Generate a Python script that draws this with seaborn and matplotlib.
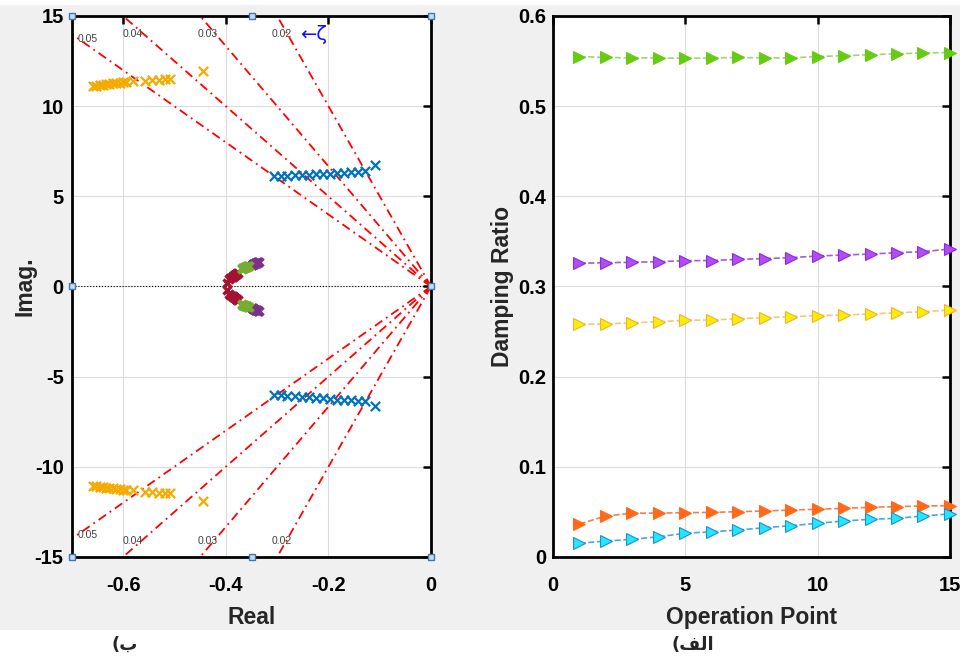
import numpy as np
import pandas as pd
import matplotlib
matplotlib.use("Agg")
import matplotlib.pyplot as plt
from matplotlib.patches import Rectangle
import seaborn as sns

sns.set_theme(style="white")
plt.rcParams["font.family"] = ["Liberation Sans", "DejaVu Sans"]

# ---- pole map data (left panel) ----
blue_re = [-0.307, -0.293, -0.280, -0.266, -0.252, -0.238, -0.225, -0.211, -0.197, -0.184, -0.170, -0.156, -0.142, -0.129, -0.109]
blue_im_up = [6.10, 6.12, 6.14, 6.16, 6.18, 6.20, 6.22, 6.24, 6.26, 6.28, 6.30, 6.33, 6.36, 6.39, 6.72]
blue_im_lo = [-6.00, -6.03, -6.06, -6.09, -6.12, -6.15, -6.18, -6.21, -6.24, -6.27, -6.30, -6.32, -6.34, -6.36, -6.65]

orange_re = [-0.659, -0.653, -0.646, -0.640, -0.633, -0.627, -0.620, -0.614, -0.607, -0.601, -0.594, -0.581,
             -0.557, -0.544, -0.531, -0.518, -0.509, -0.445]
orange_im_up = [11.10, 11.14, 11.17, 11.20, 11.22, 11.24, 11.26, 11.28, 11.30, 11.32, 11.34, 11.37,
                11.40, 11.43, 11.46, 11.49, 11.52, 11.93]
orange_im_lo = [-11.06, -11.09, -11.12, -11.14, -11.16, -11.18, -11.20, -11.22, -11.24, -11.26, -11.28, -11.30,
                -11.38, -11.41, -11.44, -11.46, -11.48, -11.90]

darkred_re = [-0.397, -0.394, -0.391, -0.389, -0.387, -0.386, -0.385, -0.384, -0.383, -0.382, -0.381, -0.380, -0.379, -0.378, -0.377]
darkred_im = [0.20, 0.40, 0.48, 0.52, 0.55, 0.57, 0.59, 0.61, 0.63, 0.65, 0.67, 0.69, 0.71, 0.73, 0.75]

green_re = [-0.369, -0.368, -0.367, -0.366, -0.365, -0.364, -0.363, -0.362, -0.361, -0.360, -0.359, -0.358, -0.357, -0.356, -0.355]
green_im = [0.98, 1.00, 1.02, 1.03, 1.04, 1.05, 1.06, 1.07, 1.08, 1.09, 1.10, 1.11, 1.12, 1.13, 1.14]

purple_re = [-0.350, -0.349, -0.348, -0.347, -0.346, -0.345, -0.344, -0.343, -0.342, -0.341, -0.340, -0.339, -0.338, -0.337, -0.336]
purple_im = [1.18, 1.20, 1.22, 1.24, 1.26, 1.27, 1.28, 1.29, 1.30, 1.31, 1.32, 1.33, 1.34, 1.35, 1.36]

zetas = [0.05, 0.04, 0.03, 0.02]
zeta_labels = ["0.05", "0.04", "0.03", "0.02"]

# ---- damping ratio data (right panel) ----
op_point = list(range(1, 16))
zeta_green = [0.555, 0.554, 0.5535, 0.5535, 0.553, 0.5535, 0.554, 0.5535, 0.5535, 0.555, 0.556, 0.557, 0.558, 0.559, 0.5595]
zeta_purple = [0.3257, 0.3264, 0.3268, 0.3275, 0.3286, 0.3288, 0.3301, 0.3309, 0.332, 0.3338, 0.3349, 0.336, 0.3375, 0.3386, 0.3416]
zeta_yellow = [0.258, 0.2584, 0.2598, 0.2609, 0.2625, 0.2628, 0.2643, 0.2654, 0.2665, 0.2676, 0.2684, 0.2695, 0.2709, 0.272, 0.2739]
zeta_orange = [0.0366, 0.0455, 0.0485, 0.0487, 0.0491, 0.0495, 0.0502, 0.051, 0.0521, 0.0529, 0.054, 0.0551, 0.0558, 0.0566, 0.0569]
zeta_cyan = [0.0152, 0.0177, 0.0196, 0.0225, 0.0263, 0.028, 0.0299, 0.0325, 0.0347, 0.0374, 0.0399, 0.0418, 0.0429, 0.0455, 0.0477]

fig = plt.figure(figsize=(9.6, 6.66), dpi=100, facecolor="white")
fig.patches.append(Rectangle((0, 0.054), 1, 0.9385, transform=fig.transFigure,
                             facecolor="#f0f0f0", edgecolor="none", zorder=-10))

ax1 = fig.add_axes([0.075, 0.1637, 0.374, 0.8123])
ax2 = fig.add_axes([0.576, 0.1637, 0.4135, 0.8123])


def style_axes(ax):
    ax.set_facecolor("white")
    ax.grid(True, color="#dcdcdc", linewidth=0.8)
    ax.set_axisbelow(True)
    for s in ax.spines.values():
        s.set_visible(True)
        s.set_color("black")
        s.set_linewidth(2)
    ax.tick_params(direction="in", length=6, width=1.8, top=True, right=True,
                   labelsize=14.5, colors="black")
    for lab in ax.get_xticklabels() + ax.get_yticklabels():
        lab.set_fontweight("bold")


# ---- left panel ----
ax1.plot([-0.7, 0], [0, 0], color="black", linestyle=":", linewidth=0.8, zorder=1)
for z in zetas:
    wn = 25
    re_end = -wn * z
    im_end = wn * np.sqrt(1 - z ** 2)
    for sgn in (1, -1):
        ax1.plot([0, re_end], [0, sgn * im_end], color="red", linestyle=(0, (5, 2.5, 1, 2.5)),
                 linewidth=1.3, zorder=2)

marker_kw = dict(marker="x", linewidth=1.6, legend=False, ax=ax1, zorder=4)
sns.scatterplot(x=blue_re + blue_re, y=blue_im_up + blue_im_lo, color="#0072bd", s=45, **marker_kw)
sns.scatterplot(x=orange_re + orange_re, y=orange_im_up + orange_im_lo, color="#f5aa00", s=45, **marker_kw)
cluster_kw = dict(marker="x", linewidth=2.4, s=34, legend=False, ax=ax1)
sns.scatterplot(x=darkred_re + darkred_re, y=darkred_im + [-v for v in darkred_im], color="#a2142f",
                zorder=4, **cluster_kw)
sns.scatterplot(x=green_re + green_re, y=green_im + [-v for v in green_im], color="#77ac30",
                zorder=5, **cluster_kw)
sns.scatterplot(x=purple_re + purple_re, y=purple_im + [-v for v in purple_im], color="#7e2f8e",
                zorder=4, **cluster_kw)

# damping labels
top_pos = [(-0.690, 13.7), (-0.602, 14.0), (-0.456, 14.0), (-0.310, 14.0)]
bot_pos = [(-0.690, -13.8), (-0.602, -14.1), (-0.456, -14.1), (-0.310, -14.1)]
for lab, (xt, yt), (xb, yb) in zip(zeta_labels, top_pos, bot_pos):
    ax1.text(xt, yt, lab, fontsize=7.5, color="#404040", ha="left", va="center", zorder=6)
    ax1.text(xb, yb, lab, fontsize=7.5, color="#404040", ha="left", va="center", zorder=6)
ax1.text(-0.255, 14.0, "←ζ", fontsize=14, color="#1010ff", ha="left", va="center",
         family=["DejaVu Sans"], zorder=6)

# selection handles
hx = [-0.7, -0.35, 0, -0.7, 0, -0.7, -0.35, 0]
hy = [15, 15, 15, 0, 0, -15, -15, -15]
ax1.plot(hx, hy, linestyle="none", marker="s", markersize=5, markerfacecolor="#c8dcf0",
         markeredgecolor="#3c78b4", markeredgewidth=1, clip_on=False, zorder=10)

ax1.set_xlim(-0.7, 0)
ax1.set_ylim(-15, 15)
ax1.set_xticks([-0.6, -0.4, -0.2, 0])
ax1.set_xticklabels(["-0.6", "-0.4", "-0.2", "0"])
ax1.set_yticks([-15, -10, -5, 0, 5, 10, 15])
ax1.set_yticklabels(["-15", "-10", "-5", "0", "5", "10", "15"])
style_axes(ax1)
ax1.tick_params(axis="x", pad=14)
ax1.tick_params(axis="y", pad=6)
ax1.set_xlabel("Real", fontsize=16.5, fontweight="bold")
ax1.set_ylabel("Imag.", fontsize=16.5, fontweight="bold")
ax1.xaxis.label.set_va("center")
ax1.yaxis.label.set_va("center")
ax1.xaxis.set_label_coords(0.5, -0.111)
ax1.yaxis.set_label_coords(-0.131, 0.5)

# ---- right panel ----
series = [
    (zeta_green, "#66cc11", "#66cc11", "#9ad870"),
    (zeta_purple, "#b34cf2", "#8a2be2", "#a060d0"),
    (zeta_yellow, "#ffee00", "#f0b030", "#f5c870"),
    (zeta_orange, "#ff6a1a", "#ff6a1a", "#f08050"),
    (zeta_cyan, "#22e8ff", "#1e8fd0", "#4aa8e0"),
]
for vals, face, edge, line in series:
    df = pd.DataFrame({"op": op_point, "zeta": vals})
    sns.lineplot(data=df, x="op", y="zeta", color=line, linestyle="--", linewidth=1.2, ax=ax2, zorder=3)
    ax2.plot(df["op"], df["zeta"], linestyle="none", marker=">", markersize=8.5,
             markerfacecolor=face, markeredgecolor=edge, markeredgewidth=0.8, clip_on=False, zorder=4)

ax2.set_xlim(0, 15)
ax2.set_ylim(0, 0.6)
ax2.set_xticks([0, 5, 10, 15])
ax2.set_xticklabels(["0", "5", "10", "15"])
ax2.set_yticks([0, 0.1, 0.2, 0.3, 0.4, 0.5, 0.6])
ax2.set_yticklabels(["0", "0.1", "0.2", "0.3", "0.4", "0.5", "0.6"])
style_axes(ax2)
ax2.tick_params(axis="x", pad=14)
ax2.tick_params(axis="y", pad=5)
ax2.set_xlabel("Operation Point", fontsize=16.5, fontweight="bold")
ax2.set_ylabel("Damping Ratio", fontsize=16.5, fontweight="bold")
ax2.xaxis.label.set_va("center")
ax2.yaxis.label.set_va("center")
ax2.xaxis.set_label_coords(0.5, -0.111)
ax2.yaxis.set_label_coords(-0.126, 0.5)

# panel captions (Persian, laid out visually right-to-left)
fig.text(125 / 960, 1 - 645 / 666, "(ب", fontsize=13, fontweight="bold", ha="center", va="center",
         family=["DejaVu Sans"])
fig.text(693 / 960, 1 - 645 / 666, "(\ufed2\ufedf\u0627", fontsize=13, fontweight="bold", ha="center",
         va="center", family=["DejaVu Sans"])

fig.savefig("out.png", dpi=100, facecolor="white")
